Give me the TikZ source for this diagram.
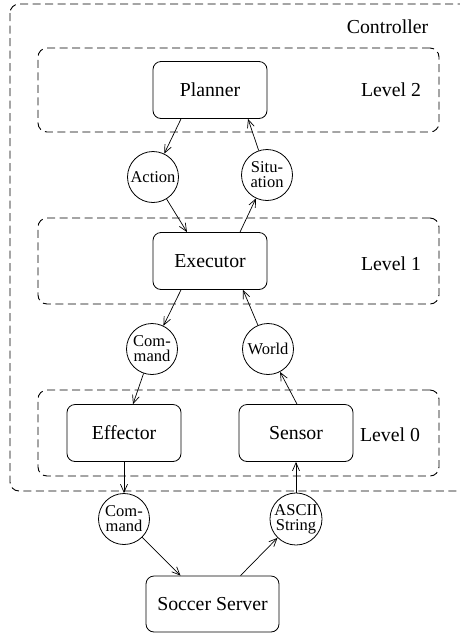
\documentclass[tikz,border=0pt]{standalone}
\usepackage{fontspec}
\setmainfont{Liberation Serif}
\usetikzlibrary{arrows.meta}
\begin{document}
\begin{tikzpicture}[x=1pt,y=-1pt,
  box/.style={draw,line width=0.8pt,rounded corners=8pt,minimum width=114pt,minimum height=57pt,inner sep=0pt,font=\fontsize{19.8}{22}\selectfont},
  circ/.style={draw,circle,line width=0.8pt,minimum size=51pt,inner sep=0pt,align=center,font=\fontsize{16.5}{15}\selectfont},
  levelbox/.style={draw,dashed,dash pattern=on 8pt off 4.5pt,line width=0.9pt,rounded corners=9pt,minimum width=401pt,inner sep=0pt},
  lbl/.style={font=\fontsize{19.8}{22}\selectfont,inner sep=0pt},
  arr/.style={-{Straight Barb[length=8pt,width=7pt]},line width=0.7pt}
]
\useasboundingbox (0,0) rectangle (460,633);
\clip (0,0) rectangle (460,633);
\draw[dashed,dash pattern=on 8pt off 4.5pt,line width=0.9pt,rounded corners=9pt] (10,4) rectangle (480,491);
\node[lbl] (ctrl) at (387.5,27) {Controller};
\node[levelbox,minimum height=84pt] (lvl2) at (238.5,90) {};
\node[levelbox,minimum height=86pt] (lvl1) at (238.5,261) {};
\node[levelbox,minimum height=86pt] (lvl0) at (238.5,433) {};
\node[lbl] (l2) at (391,90) {Level 2};
\node[lbl] (l1) at (391,264) {Level 1};
\node[lbl] (l0) at (390,435) {Level 0};
\node[box] (planner) at (210,90) {Planner};
\node[box] (executor) at (210,261) {Executor};
\node[box] (effector) at (124,433) {Effector};
\node[box] (sensor) at (296,433) {Sensor};
\node[box,minimum width=133pt,minimum height=56pt] (server) at (212.5,604) {Soccer Server};
\node[circ] (action) at (153,177) {Action};
\node[circ] (situation) at (267,175) {Situ-\\ation};
\node[circ] (cmd1) at (152,349) {Com-\\mand};
\node[circ] (world) at (268,349) {World};
\node[circ] (cmd2) at (124,519) {Com-\\mand};
\node[circ] (ascii) at (296,519) {ASCII\\String};
\draw[arr] ([xshift=-29pt]planner.south) -- (action);
\draw[arr] (situation) -- ([xshift=38pt]planner.south);
\draw[arr] (action) -- ([xshift=-23pt]executor.north);
\draw[arr] ([xshift=30pt]executor.north) -- (situation);
\draw[arr] ([xshift=-29pt]executor.south) -- (cmd1);
\draw[arr] (world) -- ([xshift=33pt]executor.south);
\draw[arr] (cmd1) -- ([xshift=9pt]effector.north);
\draw[arr] ([xshift=1pt]sensor.north) -- (world);
\draw[arr] (effector.south) -- (cmd2);
\draw[arr] (ascii) -- (sensor.south);
\draw[arr] (cmd2) -- ([xshift=-32pt]server.north);
\draw[arr] ([xshift=28pt]server.north) -- (ascii);
\end{tikzpicture}
\end{document}
